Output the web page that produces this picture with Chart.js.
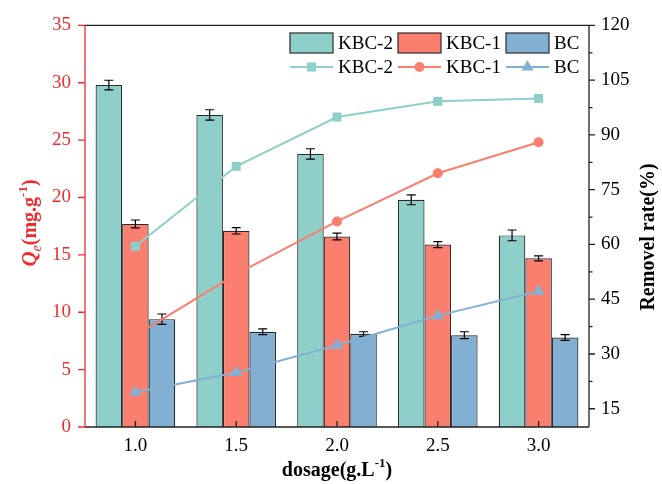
<!DOCTYPE html>
<html>
<head>
<meta charset="utf-8">
<script src="https://cdn.jsdelivr.net/npm/chart.js@4.4.1/dist/chart.umd.min.js"></script>
<style>
  html, body { margin: 0; padding: 0; background: #fff; }
  #wrap { width: 662px; height: 484px; }
</style>
</head>
<body>
<div id="wrap"><canvas id="c" width="662" height="484"></canvas></div>
<script>
// dados
const dosages = ["1.0", "1.5", "2.0", "2.5", "3.0"];
const qeKBC2 = [29.8, 27.2, 23.8, 19.8, 16.7];
const qeKBC1 = [17.7, 17.1, 16.6, 15.9, 14.7];
const qeBC = [9.4, 8.3, 8.1, 8.0, 7.8];
const errKBC2 = [0.42, 0.45, 0.45, 0.43, 0.47];
const errKBC1 = [0.34, 0.28, 0.3, 0.26, 0.22];
const errBC = [0.45, 0.25, 0.2, 0.3, 0.25];
const rateKBC2 = [59.5, 81.4, 94.9, 99.2, 100.0];
const rateKBC1 = [35.0, 51.9, 66.3, 79.5, 88.0];
const rateBC = [19.5, 24.9, 32.4, 40.5, 47.2];
const leftTicks = [0, 5, 10, 15, 20, 25, 30, 35];
const rightTicks = [15, 30, 45, 60, 75, 90, 105, 120];

const TEAL = "#8ECFC9";
const SALMON = "#FA7F6F";
const BLUE = "#82B0D2";
const RED = "#F02B30";
const SERIF = "'Liberation Serif', 'Times New Roman', serif";

function barSet(label, data, errors, color) {
  return {
    type: "bar", label, data, errors,
    backgroundColor: color,
    borderColor: "#2a2a2a",
    borderWidth: 1.2,
    categoryPercentage: 0.79,
    barPercentage: 1.0,
    yAxisID: "y",
    order: 2,
  };
}

function lineSet(label, data, color, style, radius) {
  return {
    type: "line", label, data,
    borderColor: color,
    backgroundColor: color,
    borderWidth: 2,
    pointStyle: style,
    pointRadius: radius,
    pointBorderWidth: 0,
    pointBackgroundColor: color,
    yAxisID: "y1",
    order: 1,
    clip: false,
  };
}

function drawRich(ctx, parts, x, y) {
  let total = 0;
  for (const p of parts) { ctx.font = p.font; total += ctx.measureText(p.text).width; }
  let cx = x - total / 2;
  ctx.textAlign = "left";
  ctx.textBaseline = "alphabetic";
  for (const p of parts) {
    ctx.font = p.font;
    ctx.fillText(p.text, cx, y + (p.dy || 0));
    cx += ctx.measureText(p.text).width;
  }
}

const decor = {
  id: "decor",
  afterDatasetDraw(chart, args) {
    const ds = chart.data.datasets[args.index];
    if (!ds.errors) return;
    const { ctx } = chart;
    const ys = chart.scales.y;
    ctx.save();
    ctx.strokeStyle = "#000";
    ctx.lineWidth = 1.2;
    args.meta.data.forEach((el, i) => {
      const v = ds.data[i], e = ds.errors[i];
      const t = ys.getPixelForValue(v + e), b = ys.getPixelForValue(v - e);
      ctx.beginPath();
      ctx.moveTo(el.x, t); ctx.lineTo(el.x, b);
      ctx.moveTo(el.x - 4.5, t); ctx.lineTo(el.x + 4.5, t);
      ctx.moveTo(el.x - 4.5, b); ctx.lineTo(el.x + 4.5, b);
      ctx.stroke();
    });
    ctx.restore();
  },
  afterDraw(chart) {
    const { ctx, chartArea: a } = chart;
    const xs = chart.scales.x, ys = chart.scales.y, y1 = chart.scales.y1;
    ctx.save();
    ctx.lineWidth = 1.3;

    // moldura
    ctx.strokeStyle = "#222";
    ctx.beginPath();
    ctx.moveTo(a.left, a.top); ctx.lineTo(a.right, a.top);
    ctx.moveTo(a.left, a.bottom); ctx.lineTo(a.right, a.bottom);
    ctx.moveTo(a.right, a.top); ctx.lineTo(a.right, a.bottom);
    ctx.stroke();

    // ticks eixo x (para dentro)
    ctx.beginPath();
    xs.ticks.forEach((_, i) => {
      const px = xs.getPixelForTick(i);
      ctx.moveTo(px, a.bottom); ctx.lineTo(px, a.bottom - 6);
    });
    // ticks eixo direito
    rightTicks.forEach((v) => {
      const py = y1.getPixelForValue(v);
      ctx.moveTo(a.right, py); ctx.lineTo(a.right + 6, py);
      if (v - 7.5 >= y1.min) {
        const pm = y1.getPixelForValue(v - 7.5);
        ctx.moveTo(a.right, pm); ctx.lineTo(a.right + 3.5, pm);
      }
    });
    ctx.stroke();

    // eixo esquerdo vermelho
    ctx.strokeStyle = RED;
    ctx.beginPath();
    ctx.moveTo(a.left, a.top); ctx.lineTo(a.left, a.bottom);
    leftTicks.forEach((v) => {
      const py = ys.getPixelForValue(v);
      ctx.moveTo(a.left, py); ctx.lineTo(a.left - 7, py);
    });
    ctx.stroke();

    // legenda
    const ds = chart.data.datasets;
    const cols = [290, 398, 506];
    ctx.font = "19px " + SERIF;
    ctx.textBaseline = "middle";
    ctx.textAlign = "left";
    for (let k = 0; k < 3; k++) {
      const bar = ds[k], line = ds[k + 3];
      const x0 = cols[k];
      ctx.fillStyle = bar.backgroundColor;
      ctx.fillRect(x0, 33, 43, 20);
      ctx.strokeStyle = "#2a2a2a";
      ctx.lineWidth = 1.2;
      ctx.strokeRect(x0, 33, 43, 20);
      ctx.fillStyle = "#000";
      ctx.fillText(bar.label, x0 + 48, 44);

      ctx.strokeStyle = line.borderColor;
      ctx.lineWidth = 2;
      ctx.beginPath();
      ctx.moveTo(x0, 67); ctx.lineTo(x0 + 43, 67);
      ctx.stroke();
      ctx.fillStyle = line.borderColor;
      Chart.helpers.drawPoint(ctx, { pointStyle: line.pointStyle, radius: line.pointRadius, borderWidth: 0 }, x0 + 21.5, 67);
      ctx.fillStyle = "#000";
      ctx.fillText(line.label, x0 + 48, 68);
    }

    // títulos
    ctx.fillStyle = "#000";
    drawRich(ctx, [
      { text: "dosage(g.L", font: "bold 20px " + SERIF },
      { text: "-1", font: "bold 13px " + SERIF, dy: -9 },
      { text: ")", font: "bold 20px " + SERIF },
    ], (a.left + a.right) / 2, 476);

    ctx.save();
    ctx.translate(36, 223);
    ctx.rotate(-Math.PI / 2);
    ctx.fillStyle = RED;
    drawRich(ctx, [
      { text: "Q", font: "bold italic 21px " + SERIF },
      { text: "e", font: "italic 14px " + SERIF, dy: 5 },
      { text: "(mg.g", font: "bold 20px " + SERIF },
      { text: "-1", font: "bold 13px " + SERIF, dy: -9 },
      { text: ")", font: "bold 20px " + SERIF },
    ], 0, 0);
    ctx.restore();

    ctx.save();
    ctx.translate(654, 237);
    ctx.rotate(-Math.PI / 2);
    ctx.fillStyle = "#000";
    drawRich(ctx, [{ text: "Removel rate(%)", font: "bold 20px " + SERIF }], 0, 0);
    ctx.restore();

    ctx.restore();
  },
};

new Chart(document.getElementById("c"), {
  data: {
    labels: dosages,
    datasets: [
      barSet("KBC-2", qeKBC2, errKBC2, TEAL),
      barSet("KBC-1", qeKBC1, errKBC1, SALMON),
      barSet("BC", qeBC, errBC, BLUE),
      lineSet("KBC-2", rateKBC2, TEAL, "rect", 6.4),
      lineSet("KBC-1", rateKBC1, SALMON, "circle", 5),
      lineSet("BC", rateBC, BLUE, "triangle", 7),
    ],
  },
  options: {
    responsive: false,
    animation: false,
    devicePixelRatio: 1,
    layout: { padding: { top: 20, left: 0, right: 0, bottom: 0 } },
    plugins: { legend: { display: false }, tooltip: { enabled: false } },
    scales: {
      x: {
        type: "category",
        offset: true,
        grid: { display: false, drawTicks: false },
        border: { display: false },
        ticks: { color: "#000", font: { family: SERIF, size: 19 }, padding: 8 },
        afterFit(s) { s.height = 57; },
      },
      y: {
        position: "left",
        min: 0, max: 35,
        afterBuildTicks(s) { s.ticks = leftTicks.map((v) => ({ value: v })); },
        grid: { display: false, drawTicks: false },
        border: { display: false },
        ticks: { color: RED, font: { family: SERIF, size: 19 }, padding: 14 },
        afterFit(s) { s.width = 85; },
      },
      y1: {
        position: "right",
        min: 10, max: 120,
        afterBuildTicks(s) { s.ticks = rightTicks.map((v) => ({ value: v })); },
        grid: { display: false, drawTicks: false },
        border: { display: false },
        ticks: { color: "#000", font: { family: SERIF, size: 19 }, padding: 12 },
        afterFit(s) { s.width = 73; },
      },
    },
  },
  plugins: [decor],
});
</script>
</body>
</html>
